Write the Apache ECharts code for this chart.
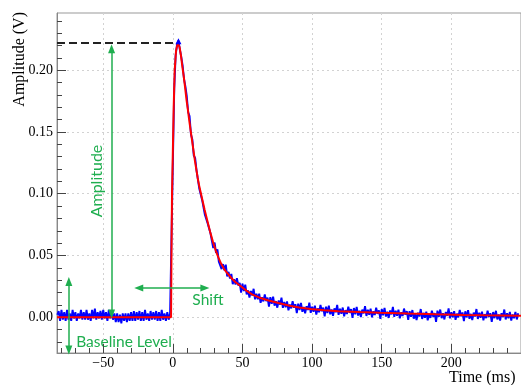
<!DOCTYPE html>
<html><head><meta charset="utf-8">
<script src="https://cdn.jsdelivr.net/npm/echarts@6/dist/echarts.min.js"></script>
<style>html,body{margin:0;padding:0;background:#fff}#c{width:521px;height:385px}</style>
</head><body><div id="c"></div>
<script>
// ---- axis ranges & ticks ----
const X_MIN = -83.2, X_MAX = 250;
const Y_MIN = -0.029, Y_MAX = 0.2464;
const xTickLabels = [-50, 0, 50, 100, 150, 200];
const xMinorTicks = [-80,-70,-60,-40,-30,-20,-10,10,20,30,40,60,70,80,90,110,120,130,140,160,170,180,190,210,220,230,240];
const yTickLabels = [0, 0.05, 0.10, 0.15, 0.20];
const yMinorTicks = [-0.02,-0.01,0.01,0.02,0.03,0.04,0.06,0.07,0.08,0.09,0.11,0.12,0.13,0.14,0.16,0.17,0.18,0.19,0.21,0.22,0.23,0.24];

// ---- measured signal (blue), one sample per ms starting at sampleStart ----
const sampleStart = -83;
const sampleStep = 1;
const signalValues = [
0.002,0.005,-0.003,0.006,-0.002,0.004,-0.003,0.006,-0.002,0.003,-0.003,
0.006,-0.001,0.004,-0.003,0.003,-0.001,0.006,-0.002,0.004,-0.002,
0.006,-0.002,0.003,-0.003,0.006,-0.001,0.007,-0.002,0.004,-0.001,
0.005,-0.002,0.006,-0.001,0.004,-0.003,0.006,-0.001,0.005,-0.002,
0.003,-0.004,0.003,-0.004,0.002,-0.005,0.003,-0.003,0.003,-0.004,
0.003,-0.003,0.004,-0.003,0.005,-0.003,0.004,-0.002,0.005,-0.003,
0.004,-0.003,0.006,-0.002,0.003,-0.003,0.005,-0.002,0.004,-0.002,
0.005,-0.003,0.004,-0.003,0.006,-0.002,0.003,-0.003,0.004,-0.002,0.003,
0.004,0.125,0.185,0.212,0.221,0.224,0.217,0.211,0.204,0.193,0.187,
0.179,0.166,0.163,0.148,0.144,0.131,0.129,0.119,0.118,0.104,
0.104,0.095,0.095,0.083,0.0835,0.076,0.0775,0.068,0.067,0.056,
0.0605,0.052,0.055,0.045,0.0465,0.039,0.043,0.038,0.0425,0.033,
0.0367,0.0313,0.035,0.0268,0.0307,0.0265,0.0316,0.0257,0.0278,0.020,
0.0271,0.0212,0.0264,0.0185,0.0217,0.016,0.0212,0.0175,0.023,0.0145,
0.019,0.0145,0.019,0.0116,0.0162,0.0128,0.0184,0.0131,0.0158,0.0085,
0.0162,0.0109,0.0166,0.0093,0.013,0.0077,0.0135,0.0102,0.0159,0.0076,
0.0123,0.0081,0.0128,0.0056,0.0103,0.0071,0.0129,0.0077,0.0105,0.0033,
0.011,0.0058,0.0116,0.0044,0.0082,0.0031,0.0089,0.0058,0.0117,0.0036,
0.0085,0.0044,0.0093,0.0022,0.0071,0.004,0.0099,0.0048,0.0077,0.0006,
0.0085,0.0034,0.0094,0.0023,0.0062,0.0012,0.0071,0.004,0.01,0.0019,
0.0069,0.0028,0.0078,0.0007,0.0057,0.0026,0.0086,0.0035,0.0065,-0.0005,
0.0074,0.0024,0.0083,0.0013,0.0052,0.0002,0.0061,0.0031,0.009,0.001,
0.006,0.002,0.0069,-0.0001,0.0048,0.0018,0.0077,0.0027,0.0056,-0.0014,
0.0066,0.0016,0.0075,0.0005,0.0044,-0.0006,0.0054,0.0023,0.0083,0.0003,
0.0052,0.0012,0.0061,-0.0009,0.004,0.001,0.007,0.002,0.0049,-0.0021,
0.0049,0.0004,0.0058,-0.0012,0.0027,-0.0023,0.0036,0.0006,0.0066,-0.0014,
0.0035,-0.0005,0.0044,-0.0026,0.0024,-0.0006,0.0053,0.0003,0.0033,-0.0037,
0.0053,0.0003,0.0062,-0.0008,0.0032,-0.0018,0.0042,0.0011,0.0071,-0.0009,
0.004,0.0,0.0049,-0.0021,0.0029,-0.0001,0.0058,0.0008,0.0038,-0.0032,
0.0048,-0.0002,0.0057,-0.0013,0.0027,-0.0024,0.0037,0.0006,0.0066,-0.0014,
0.0036,-0.0005,0.0045,-0.0025,0.0025,-0.0008,0.0052,0.0002,0.0032,-0.0038,
0.0042,-0.0008,0.0052,-0.0018,0.0022,-0.0028,0.0032,0.0002,0.0062,-0.0018,
0.0032,-0.0008,0.0042,-0.0028,0.0022,-0.0008,0.0042,-0.0018,0.0032
];

// ---- fit curve (red) ----
const fitTimes = [-83.2,-1.3,-1.0,-0.6,0.0,0.6,1.3,2.3,3.5,4.8,5.8,6.8,7.8,8.8,9.8,10.8,11.8,12.8,13.8,14.8,15.8,16.8,17.8,18.8,20.8,22.8,24.8,26.8,28.8,30.8,32.8,34.8,36.8,38.8,41.8,44.8,48.8,52.8,56.8,61.8,68.8,75.8,83.8,90.8,98.8,108.8,118.8,133.8,148.8,168.8,188.8,208.8,223.8,224.8,250];
const fitValues = [0.0,0.0,0.05,0.1,0.135,0.17,0.2,0.216,0.222,0.219,0.212,0.203,0.195,0.186,0.176,0.168,0.159,0.151,0.143,0.135,0.127,0.120,0.113,0.107,0.097,0.087,0.078,0.069,0.061,0.054,0.048,0.043,0.039,0.036,0.032,0.0285,0.025,0.0215,0.0185,0.016,0.0135,0.0115,0.0093,0.0078,0.0066,0.0056,0.0049,0.0042,0.0036,0.0029,0.0023,0.0018,0.0015,0.0012,0.0012];

// ---- annotation anchors (data units) ----
const amplitude = 0.222;
const peakTime = 3.5;
const ampArrowX = -44, ampArrowFrom = 0.0025, ampArrowTo = 0.2175;
const shiftArrowY = 0.0237, shiftFrom = -24.5, shiftTo = 23;
const baseArrowX = -74.7, baseFrom = -0.0265, baseTo = 0.029;

const GREEN = '#1fae4f';
const signalData = signalValues.map((v, i) => [sampleStart + i * sampleStep, v]);
const fitData = fitTimes.map((t, i) => [t, fitValues[i]]);

const chart = echarts.init(document.getElementById('c'), null, {renderer: 'canvas'});
const serif = 'Liberation Serif';
const minusFmt = v => v < 0 ? '\u2212' + (-v) : String(v);

const arrowLine = (a, b) => [{coord: a}, {coord: b}];

chart.setOption({
  animation: false,
  backgroundColor: '#fff',
  grid: {left: 57, top: 13, width: 468.4, height: 340, show: true, borderColor: '#999', borderWidth: 1, containLabel: false},
  xAxis: [
    {type: 'value', min: X_MIN, max: X_MAX, position: 'bottom',
     axisLine: {show: true, onZero: false, lineStyle: {color: '#888'}},
     axisTick: {show: true, inside: true, length: 9, customValues: xTickLabels, lineStyle: {color: '#444'}},
     axisLabel: {customValues: xTickLabels, formatter: minusFmt, fontFamily: serif, fontSize: 14, color: '#000', margin: 3},
     splitLine: {show: true, lineStyle: {color: '#d2d2d2', type: [2, 3], width: 1}},
     minorTick: {show: false}},
    {type: 'value', min: X_MIN, max: X_MAX, position: 'bottom',
     axisLine: {show: false, onZero: false},
     axisTick: {show: true, inside: true, length: 5, customValues: xMinorTicks, lineStyle: {color: '#444'}},
     axisLabel: {show: false}, splitLine: {show: false}}
  ],
  yAxis: [
    {type: 'value', min: Y_MIN, max: Y_MAX, position: 'left',
     axisLine: {show: true, onZero: false, lineStyle: {color: '#888'}},
     axisTick: {show: true, inside: true, length: 9, customValues: yTickLabels, lineStyle: {color: '#444'}},
     axisLabel: {customValues: yTickLabels, formatter: v => v.toFixed(2), fontFamily: serif, fontSize: 14, color: '#000', margin: 4},
     splitLine: {show: true, lineStyle: {color: '#d2d2d2', type: [2, 3], width: 1}},
     minorTick: {show: false}},
    {type: 'value', min: Y_MIN, max: Y_MAX, position: 'left',
     axisLine: {show: false, onZero: false},
     axisTick: {show: true, inside: true, length: 5, customValues: yMinorTicks, lineStyle: {color: '#444'}},
     axisLabel: {show: false}, splitLine: {show: false}}
  ],
  series: [
    {type: 'line', name: 'signal', data: signalData, xAxisIndex: 0, yAxisIndex: 0,
     showSymbol: false, symbol: 'none', sampling: null, silent: true, z: 2,
     lineStyle: {color: '#0000ff', width: 1.9},
     markPoint: {silent: true, symbol: 'triangle', symbolSize: 6, itemStyle: {color: '#0000ff'}, label: {show: false},
       data: [{coord: [peakTime + 0.5, amplitude + 0.0015]}]}},
    {type: 'line', name: 'fit', data: fitData, xAxisIndex: 0, yAxisIndex: 0,
     showSymbol: false, symbol: 'none', silent: true, z: 3,
     lineStyle: {color: '#ff0000', width: 2},
     markLine: {silent: true, symbol: ['none', 'none'], label: {show: false}, animation: false,
       lineStyle: {color: '#222', type: [8, 4], width: 2},
       data: [[{coord: [X_MIN, amplitude]}, {coord: [peakTime, amplitude]}]]}},
    {type: 'line', name: 'annotations', data: [], xAxisIndex: 0, yAxisIndex: 0, silent: true, z: 5,
     markLine: {silent: true, symbol: ['triangle', 'triangle'], symbolSize: [7, 9], label: {show: false}, animation: false,
       lineStyle: {color: GREEN, type: 'solid', width: 1.5}, itemStyle: {color: GREEN},
       data: [
         arrowLine([ampArrowX, ampArrowFrom], [ampArrowX, ampArrowTo]),
         arrowLine([shiftFrom, shiftArrowY], [shiftTo, shiftArrowY]),
         arrowLine([baseArrowX, baseFrom], [baseArrowX, baseTo])
       ]}}
  ],
  graphic: [
    {type: 'text', x: 20, y: 12, rotation: Math.PI / 2, silent: true,
     style: {text: 'Amplitude (V)', fontFamily: serif, fontSize: 16, fill: '#000', align: 'right', verticalAlign: 'middle'}},
    {type: 'text', x: 449, y: 378, silent: true,
     style: {text: 'Time (ms)', fontFamily: serif, fontSize: 16, fill: '#000', align: 'left', verticalAlign: 'middle'}},
    {type: 'text', x: 97, y: 181, rotation: Math.PI / 2, silent: true,
     style: {text: 'Amplitude', fontFamily: 'Lato', fontSize: 16, fill: GREEN, align: 'center', verticalAlign: 'middle'}},
    {type: 'text', x: 208, y: 300, silent: true,
     style: {text: 'Shift', fontFamily: 'Lato', fontSize: 15.5, fill: GREEN, align: 'center', verticalAlign: 'middle'}},
    {type: 'text', x: 124, y: 342, silent: true,
     style: {text: 'Baseline Level', fontFamily: 'Lato', fontSize: 15.5, fill: GREEN, align: 'center', verticalAlign: 'middle'}}
  ]
});
</script></body></html>
